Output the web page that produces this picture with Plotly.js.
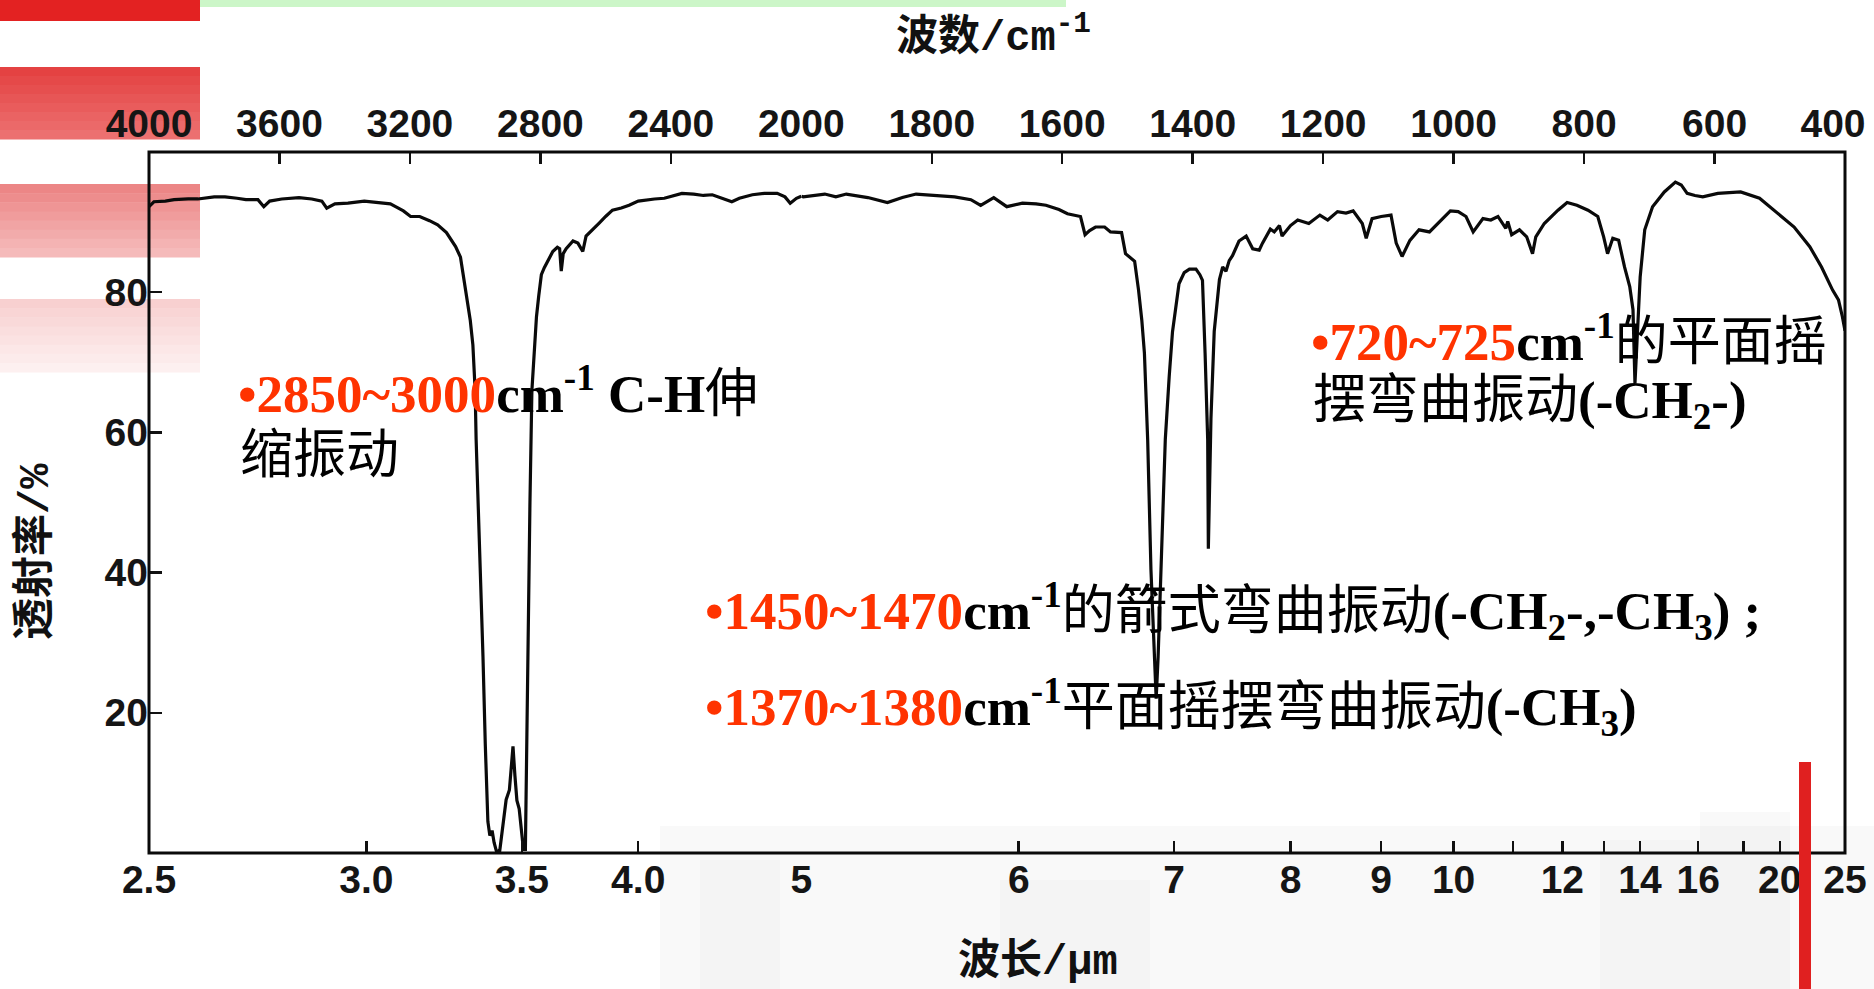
<!DOCTYPE html>
<html>
<head>
<meta charset="utf-8">
<script src="https://cdn.plot.ly/plotly-3.0.1.min.js"></script>
<style>
html,body{margin:0;padding:0;background:#ffffff;}
#chart{width:1874px;height:989px;}
</style>
</head>
<body>
<div id="chart"></div>
<script>
// ---------------- DATA ----------------
const wavenumber = [
  4000,3985,3950,3923,3880,3850,3800,3767,3730,3703,3666,3648,3630,3593,3540,3501,3470,3455,3430,3390,
  3340,3299,3260,3244,3220,3198,3170,3140,3115,3088,3060,3045,3027,3015,3007,3000,2997,2991,2986,2981,
  2976,2969,2964,2961,2955,2948,2942,2935,2925,2915,2905,2895,2890,2884,2878,2872,2865,2858,2852,2846,
  2843,2837,2832,2826,2818,2812,2805,2797,2788,2778,2762,2748,2741,2736,2730,2721,2700,2685,2670,2660,
  2640,2619,2600,2579,2552,2528,2500,2473,2450,2420,2390,2366,2330,2300,2273,2240,2213,2190,2150,2113,
  2074,2050,2034,2015,2000,
  1997,1964,1947,1931,1898,1868,1845,1824,1800,1765,1740,1725,1705,1685,1661,1640,1625,1605,1592,1572,
  1565,1558,1549,1535,1526,1509,1503,1497,1489,1483,1478,1474,1469,1464,1459,1456,1453,1449,1442,1436,
  1431,1421,1413,1405,1395,1389,1385,1381,1377,1376,1374,1372,1367,1362,1359,1354,1349,1344,1339,1329,
  1318,1308,1298,1293,1281,1275,1267,1263,1250,1239,1222,1205,1193,1178,1165,1154,1140,1134,1125,1111,
  1096,1088,1079,1067,1053,1037,1017,1005,993,981,970,955,943,932,920,917,911,899,888,879,
  874,861,840,826,811,794,779,770,764,756,747,738,730,725,722,718,714,707,695,677,
  660,651,642,630,618,595,560,531,507,478,454,436,419,410,404,400
];
const transmittance = [
  92.2,92.9,93.0,93.2,93.3,93.3,93.6,93.6,93.4,93.2,93.2,92.2,93.0,93.3,93.5,93.3,93.0,92.0,92.6,92.7,
  93.0,92.8,92.6,92.2,91.6,90.8,90.8,90.2,89.6,88.5,86.5,85.0,79.5,76.0,72.5,66.0,59.0,51.0,43.4,36.0,
  28.0,15.6,9.0,4.5,2.5,3.2,1.5,0.3,0.2,3.5,7.6,9.0,12.0,15.2,11.0,7.5,6.3,3.0,0.5,0.5,
  12.0,34.0,50.0,66.0,73.0,76.5,79.5,82.5,83.5,84.3,85.8,86.4,86.2,83.0,85.5,86.2,87.3,87.0,85.8,88.0,
  89.0,89.9,90.8,91.7,92.0,92.4,93.0,93.2,93.3,93.4,93.8,94.1,94.0,93.8,93.9,93.3,92.9,93.4,93.9,94.1,
  94.1,93.6,92.7,93.4,93.7,
  93.6,94.0,93.6,94.0,93.5,92.8,93.5,94.0,93.8,93.6,93.2,92.4,93.5,92.2,92.7,92.6,92.4,91.8,91.2,90.8,
  88.2,88.8,89.3,89.3,88.6,88.5,85.5,85.0,84.4,80.3,76.0,71.3,58.9,40.4,28.0,22.0,28.0,40.4,59.0,68.0,
  74.3,81.2,82.8,83.3,83.3,82.5,81.7,71.3,58.9,43.4,52.0,62.0,74.4,79.5,81.8,83.6,83.0,84.5,85.2,87.3,
  88.0,86.2,86.0,87.0,89.0,88.6,89.5,88.0,89.5,90.3,89.8,91.0,90.3,91.5,91.3,91.6,89.8,87.7,90.5,90.8,
  91.0,87.0,85.1,87.4,88.9,88.6,90.5,91.6,91.5,90.8,88.6,90.5,90.3,90.8,89.1,90.1,88.2,88.9,87.9,85.5,
  87.9,89.8,91.7,92.8,92.4,91.7,90.8,87.9,85.5,87.7,87.4,83.6,80.8,77.5,67.0,75.0,82.2,88.9,92.2,94.3,
  95.7,95.3,94.1,93.8,93.6,94.1,94.3,93.4,91.5,89.3,86.5,83.6,80.3,78.9,76.5,74.5
];
const wavelengthTicks  = [2.5, 3.0, 3.5, 4.0, 5, 6, 7, 8, 9, 10, 12, 14, 16, 20, 25];
const wavelengthLabels = ['2.5','3.0','3.5','4.0','5','6','7','8','9','10','12','14','16','20','25'];
const wavelengthMinorTicks = [11, 13, 18];
const wavenumberTicks  = [4000, 3600, 3200, 2800, 2400, 2000, 1800, 1600, 1400, 1200, 1000, 800, 600, 400];
const transmittanceTicks = [20, 40, 60, 80];
const scaleBreak = 2000;   // chart paper changes scale at 2000 cm-1

// ---------------- GEOMETRY / STYLE ----------------
const L = 149, T = 152, W = 1696, H = 701;
const px = x => (x - L) / W;
const py = y => (T + H - y) / H;
const split = 2000 / (2000 + 1600 * 2);   // right part is drawn at twice the scale

const hi = [], lo = [];
wavenumber.forEach((w, i) => {
  if (w >= scaleBreak) hi.push(i);
  if (w <= scaleBreak) lo.push(i);
});

const bottomHi = {v: [], t: []}, bottomLo = {v: [], t: []};
wavelengthTicks.forEach((lam, i) => {
  const w = 10000 / lam;
  const tgt = (w >= scaleBreak - 1e-6) ? bottomHi : bottomLo;
  tgt.v.push(w); tgt.t.push(wavelengthLabels[i]);
});
const minorLo = wavelengthMinorTicks.map(lam => 10000 / lam);
const xMin = Math.min(...wavenumber);
const topHi = wavenumberTicks.filter(w => w >= scaleBreak);
const topLo = wavenumberTicks.filter(w => w < scaleBreak && w !== xMin);
const topEnd = wavenumberTicks.filter(w => w === xMin);   // edge label, drawn nudged inward

const lineStyle = {color: '#0a0a0a', width: 3.2, shape: 'linear'};
const traces = [
  {x: hi.map(i => wavenumber[i]), y: hi.map(i => transmittance[i]), xaxis: 'x', yaxis: 'y',
   mode: 'lines', line: lineStyle, hoverinfo: 'skip', showlegend: false},
  {x: lo.map(i => wavenumber[i]), y: lo.map(i => transmittance[i]), xaxis: 'x2', yaxis: 'y',
   mode: 'lines', line: lineStyle, hoverinfo: 'skip', showlegend: false},
  {x: [3000], y: [null], xaxis: 'x3', yaxis: 'y', mode: 'lines', hoverinfo: 'skip', showlegend: false},
  {x: [1000], y: [null], xaxis: 'x4', yaxis: 'y', mode: 'lines', hoverinfo: 'skip', showlegend: false},
  {x: [1000], y: [null], xaxis: 'x5', yaxis: 'y', mode: 'lines', hoverinfo: 'skip', showlegend: false}
];

const tickFont = {family: 'Liberation Sans, Arial, sans-serif', size: 39, color: '#151515', weight: 'bold'};
const axisBase = {
  showgrid: false, zeroline: false, showline: false, ticks: 'inside', ticklen: 12,
  tickwidth: 2.5, tickcolor: '#111', tickmode: 'array', tickfont: tickFont, fixedrange: true,
  ticklabeloverflow: 'allow'
};

function rect(x0, y0, x1, y1, color, layer) {
  return {type: 'rect', xref: 'paper', yref: 'paper', x0: px(x0), x1: px(x1), y0: py(y1), y1: py(y0),
          fillcolor: color, line: {width: 0}, layer: layer || 'below'};
}
function gradientBand(x0, y0, x1, y1, c0, c1, n) {
  const out = [];
  for (let k = 0; k < n; k++) {
    const f = k / (n - 1);
    const c = c0.map((v, j) => Math.round(v + (c1[j] - v) * f));
    out.push(rect(x0, y0 + (y1 - y0) * k / n, x1, y0 + (y1 - y0) * (k + 1) / n + 0.5,
                  `rgb(${c[0]},${c[1]},${c[2]})`));
  }
  return out;
}

const shapes = [
  rect(0, 0, 200, 21, '#e32222'),
  ...gradientBand(0, 67, 200, 139, [228, 66, 66], [236, 112, 112], 8),
  ...gradientBand(0, 184, 200, 257, [236, 134, 134], [245, 186, 186], 8),
  ...gradientBand(0, 299, 200, 372, [248, 208, 208], [253, 240, 240], 8),
  rect(200, 0, 1066, 7, 'rgb(204,246,200)'),
  // faint background photo at the bottom
  rect(660, 826, 1874, 989, 'rgba(0,0,0,0.022)'),
  rect(700, 860, 780, 989, 'rgba(0,0,0,0.02)'),
  rect(1000, 880, 1150, 989, 'rgba(0,0,0,0.018)'),
  rect(1600, 840, 1700, 989, 'rgba(0,0,0,0.02)'),
  rect(1700, 812, 1790, 989, 'rgba(0,0,0,0.025)'),
  // plot frame
  {type: 'rect', xref: 'paper', yref: 'paper', x0: 0, x1: 1, y0: 0, y1: 1,
   line: {color: '#0a0a0a', width: 3}, fillcolor: 'rgba(0,0,0,0)', layer: 'above'},
  rect(1799, 762, 1811, 989, '#e02020', 'above')
];

const red = '#ff3300';
const noteFont = {family: 'Liberation Serif, "Noto Sans CJK SC", serif', size: 53, color: '#000'};
function note(x, y, text) {
  return {xref: 'paper', yref: 'paper', x: px(x), y: py(y), xanchor: 'left', yanchor: 'middle',
          text: text, showarrow: false, font: noteFont, align: 'left'};
}
const titleFont = {family: 'Liberation Mono, "Noto Sans CJK SC", monospace', size: 42, color: '#111', weight: 'bold'};
function title(x, y, text, angle) {
  return {xref: 'paper', yref: 'paper', x: px(x), y: py(y), xanchor: 'center', yanchor: 'middle',
          text: text, showarrow: false, font: titleFont, textangle: angle || 0};
}

const annotations = [
  title(993, 35, '波数/cm<sup>-1</sup>'),
  title(1038, 962, '波长/μm'),
  title(36, 551, '透射率/%', -90),
  note(236, 390, `<b><span style="color:${red}">•2850~3000</span>cm<sup>-1</sup> C-H</b>伸`),
  note(238, 455, '缩振动'),
  note(703, 611, `<b><span style="color:${red}">•1450~1470</span>cm<sup>-1</sup></b>的箭式弯曲振动<b>(-CH<sub>2</sub>-,-CH<sub>3</sub>) ;</b>`),
  note(703, 707, `<b><span style="color:${red}">•1370~1380</span>cm<sup>-1</sup></b>平面摇摆弯曲振动<b>(-CH<sub>3</sub>)</b>`),
  note(1309, 338, `<b><span style="color:${red}">•720~725</span>cm<sup>-1</sup></b>的平面摇`),
  note(1311, 404, `摆弯曲振动<b>(-CH<sub>2</sub>-)</b>`)
];

const layout = {
  width: 1874, height: 989,
  margin: {l: L, r: 1874 - L - W, t: T, b: 989 - T - H, pad: 0},
  paper_bgcolor: '#ffffff', plot_bgcolor: 'rgba(0,0,0,0)',
  showlegend: false,
  xaxis:  Object.assign({}, axisBase, {domain: [0, split], range: [4000, scaleBreak], anchor: 'y', side: 'bottom',
          tickvals: bottomHi.v, ticktext: bottomHi.t}),
  xaxis2: Object.assign({}, axisBase, {domain: [split, 1], range: [scaleBreak, 400], anchor: 'y', side: 'bottom',
          tickvals: bottomLo.v, ticktext: bottomLo.t,
          minor: {tickmode: 'array', tickvals: minorLo, ticks: 'inside', ticklen: 12, tickwidth: 2.5, tickcolor: '#111', showgrid: false}}),
  xaxis3: Object.assign({}, axisBase, {domain: [0, split], range: [4000, scaleBreak], anchor: 'y', side: 'top',
          overlaying: 'x', tickvals: topHi, ticktext: topHi.map(String), ticklabelstandoff: 6}),
  xaxis4: Object.assign({}, axisBase, {domain: [split, 1], range: [scaleBreak, 400], anchor: 'y', side: 'top',
          overlaying: 'x2', tickvals: topLo, ticktext: topLo.map(String), ticklabelstandoff: 6}),
  xaxis5: Object.assign({}, axisBase, {domain: [split, 1], range: [scaleBreak, 400], anchor: 'y', side: 'top',
          overlaying: 'x2', tickvals: topEnd, ticktext: topEnd.map(String), ticklabelstandoff: 6,
          ticklabelshift: 12}),
  yaxis:  Object.assign({}, axisBase, {domain: [0, 1], range: [0, 100], anchor: 'x', side: 'left',
          tickvals: transmittanceTicks, ticktext: transmittanceTicks.map(String), ticklen: 13}),
  shapes: shapes,
  annotations: annotations
};

Plotly.newPlot('chart', traces, layout, {staticPlot: true, displayModeBar: false});
</script>
</body>
</html>
